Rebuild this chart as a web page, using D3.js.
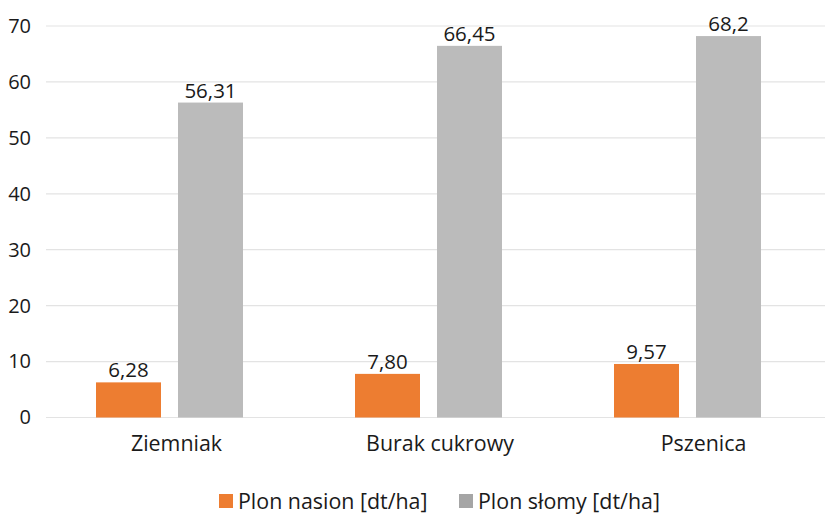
<!DOCTYPE html>
<html>
<head>
<meta charset="utf-8">
<script src="https://cdn.jsdelivr.net/npm/d3@7/dist/d3.min.js"></script>
<style>
  html, body { margin: 0; padding: 0; background: #fff; }
  svg { display: block; font-family: "Open Sans", "Noto Sans", sans-serif; }
</style>
</head>
<body>
<svg id="chart" width="826" height="515"></svg>
<script>
// Crop yields per preceding crop
const categories = ["Ziemniak", "Burak cukrowy", "Pszenica"];
const seriesNames = ["Plon nasion [dt/ha]", "Plon słomy [dt/ha]"];
const seedYield = [6.28, 7.80, 9.57];
const strawYield = [56.31, 66.45, 68.2];
const seedLabels = ["6,28", "7,80", "9,57"];
const strawLabels = ["56,31", "66,45", "68,2"];
const yTicks = [0, 10, 20, 30, 40, 50, 60, 70];

const barColors = ["#ed7d31", "#bbbbbb"];
const legendColors = ["#ed7d31", "#a5a5a5"];
const textColor = "#1a1a1a";

const svg = d3.select("#chart");
const plotLeft = 46, plotRight = 825, plotTop = 26, plotBottom = 417.5;

// Band scale for the bar groups, point scale for the category captions
const x0 = d3.scaleBand().domain(categories).range([40, 817]).paddingInner(0).paddingOuter(0);
const xLabel = d3.scalePoint().domain(categories).range([176, 703]);
const groupWidth = 147;
const x1 = d3.scaleBand().domain([0, 1]).range([0, groupWidth]).paddingInner(17 / 82).paddingOuter(0);
const y = d3.scaleLinear().domain([0, 70]).range([plotBottom, plotTop]);

// Horizontal gridlines
svg.append("g")
  .selectAll("line")
  .data(yTicks)
  .join("line")
  .attr("x1", plotLeft).attr("x2", plotRight)
  .attr("y1", d => y(d)).attr("y2", d => y(d))
  .attr("stroke", "#e3e3e3")
  .attr("stroke-width", 1.2);

// Y axis labels
const yAxis = d3.axisLeft(y).tickValues(yTicks).tickSize(0).tickPadding(15);
const gy = svg.append("g").attr("transform", `translate(${plotLeft},0)`).call(yAxis);
gy.select(".domain").remove();
gy.selectAll("text")
  .attr("font-size", 20)
  .attr("font-family", "\"Open Sans\", sans-serif")
  .attr("fill", textColor);

// X axis category labels
const xAxis = d3.axisBottom(xLabel).tickSize(0).tickPadding(18);
const gx = svg.append("g").attr("transform", `translate(0,${plotBottom})`).call(xAxis);
gx.select(".domain").remove();
gx.selectAll("text")
  .attr("font-size", 21.4)
  .attr("font-family", "\"Open Sans\", sans-serif")
  .attr("fill", textColor);

const rows = categories.map((c, i) => ({
  cat: c,
  vals: [seedYield[i], strawYield[i]],
  labels: [seedLabels[i], strawLabels[i]]
}));

const groups = svg.append("g")
  .selectAll("g")
  .data(rows)
  .join("g")
  .attr("transform", d => `translate(${x0(d.cat) + (x0.bandwidth() - groupWidth) / 2},0)`);

const cells = groups.selectAll("g")
  .data(d => d.vals.map((v, k) => ({ v, k, label: d.labels[k] })))
  .join("g");

cells.append("rect")
  .attr("x", d => x1(d.k))
  .attr("width", x1.bandwidth())
  .attr("y", d => y(d.v))
  .attr("height", d => y(0) - y(d.v))
  .attr("fill", d => barColors[d.k]);

cells.append("text")
  .attr("x", d => x1(d.k) + x1.bandwidth() / 2)
  .attr("y", d => y(d.v) - 5)
  .attr("text-anchor", "middle")
  .attr("font-size", 20.5)
  .attr("fill", textColor)
  .text(d => d.label);

// Legend
const legendItems = [
  { name: seriesNames[0], color: legendColors[0], x: 219 },
  { name: seriesNames[1], color: legendColors[1], x: 459 }
];
const lg = svg.append("g").selectAll("g").data(legendItems).join("g")
  .attr("transform", d => `translate(${d.x},494)`);
lg.append("rect").attr("width", 14).attr("height", 14).attr("fill", d => d.color);
lg.append("text")
  .attr("x", 19).attr("y", 14.5)
  .attr("font-size", 21.4)
  .attr("fill", textColor)
  .text(d => d.name);
</script>
</body>
</html>
